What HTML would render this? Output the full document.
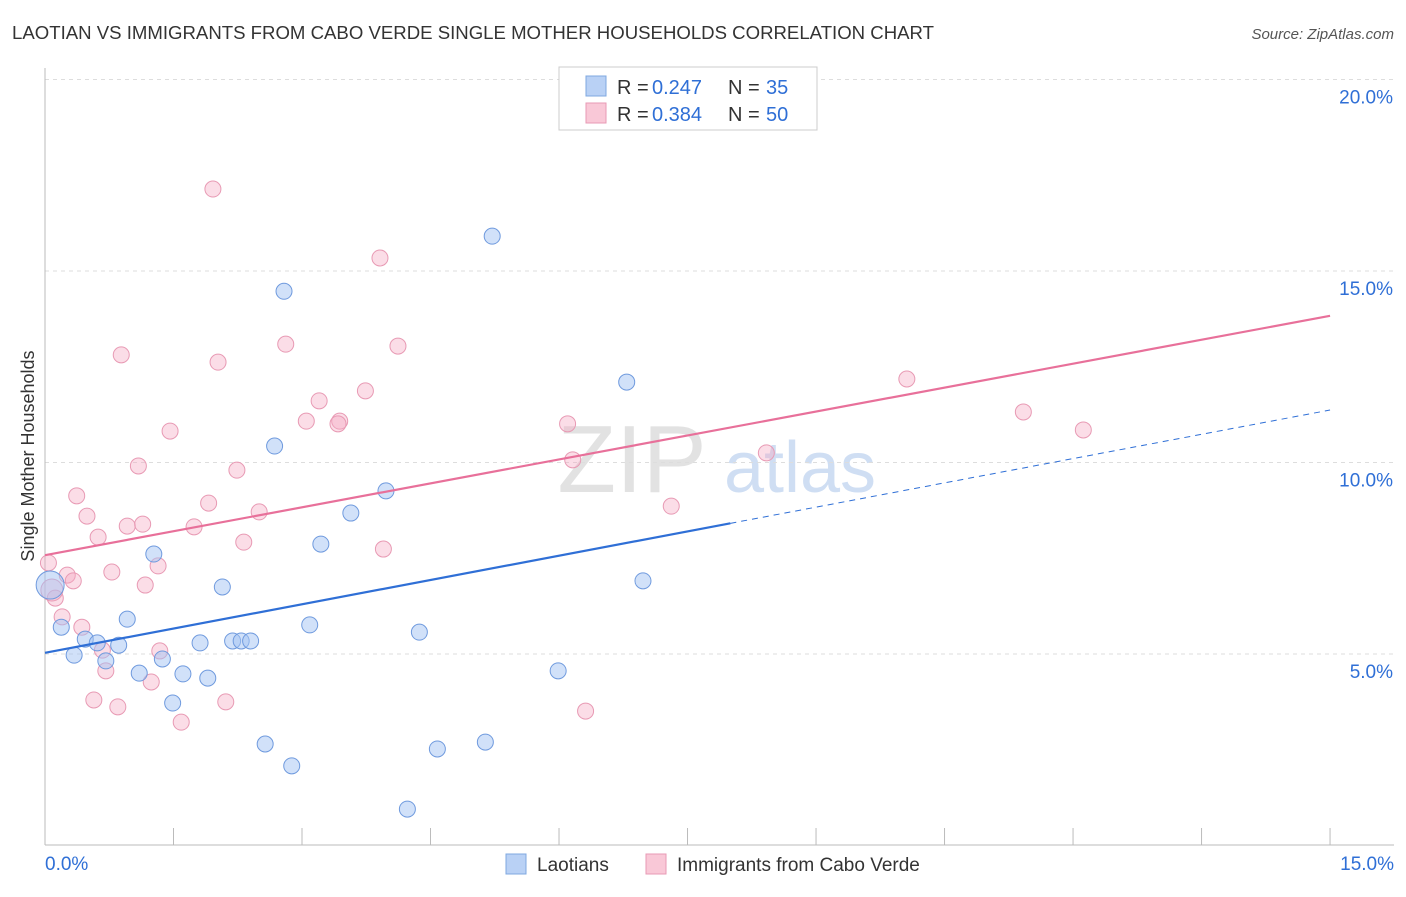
<!DOCTYPE html>
<html><head><meta charset="utf-8">
<style>
body{margin:0;background:#fff;font-family:"Liberation Sans",sans-serif;}
svg text{font-family:"Liberation Sans",sans-serif;}
</style></head>
<body>
<svg id="chart" width="1406" height="892">
<text x="12" y="39" font-size="18" fill="#333" textLength="922" lengthAdjust="spacingAndGlyphs">LAOTIAN VS IMMIGRANTS FROM CABO VERDE SINGLE MOTHER HOUSEHOLDS CORRELATION CHART</text>
<text x="1394" y="39" font-size="15" fill="#555" font-style="italic" text-anchor="end">Source: ZipAtlas.com</text>
<text x="632" y="492" font-size="96" fill="#ccc" opacity="0.55" text-anchor="middle" font-family="Liberation Serif">ZIP</text>
<text x="800" y="492" font-size="72" fill="#a9c4ea" opacity="0.55" text-anchor="middle">atlas</text>
<text transform="translate(34,456) rotate(-90)" font-size="18" fill="#333" text-anchor="middle">Single Mother Households</text>
<g id="grid"></g><g id="marks"></g>
<g>
<rect x="559" y="67" width="258" height="63" fill="#fff" stroke="#ccc"/>
<rect x="586" y="76" width="20" height="20" fill="#b9d1f5" stroke="#7fa8e0"/>
<rect x="586" y="103" width="20" height="20" fill="#f9c8d7" stroke="#e89ab4"/>
<g font-size="20">
<text x="617" y="94" fill="#333">R =</text><text x="652" y="94" fill="#2f6fd6">0.247</text>
<text x="728" y="94" fill="#333">N =</text><text x="766" y="94" fill="#2f6fd6">35</text>
</g>
<g font-size="20">
<text x="617" y="121" fill="#333">R =</text><text x="652" y="121" fill="#2f6fd6">0.384</text>
<text x="728" y="121" fill="#333">N =</text><text x="766" y="121" fill="#2f6fd6">50</text>
</g>
</g>
<g>
<rect x="506" y="854" width="20" height="20" fill="#b9d1f5" stroke="#7fa8e0"/>
<text x="537" y="871" font-size="19" fill="#333">Laotians</text>
<rect x="646" y="854" width="20" height="20" fill="#f9c8d7" stroke="#e89ab4"/>
<text x="677" y="871" font-size="19" fill="#333">Immigrants from Cabo Verde</text>
</g>
</svg>
<script>
const xTicks=[0,1.5,3,4.5,6,7.5,9,10.5,12,13.5,15];
const yTicks=[5,10,15,20];
const yTickLabels=["5.0%","10.0%","15.0%","20.0%"];
const blueX=[5.22,2.79,6.79,2.68,3.98,3.57,3.22,1.27,2.07,6.98,0.96,3.09,0.19,0.47,0.61,0.86,1.81,2.19,2.29,2.40,4.37,0.34,0.71,1.37,1.10,1.61,1.90,5.99,1.49,2.57,4.58,5.14,2.88,4.23,0.06];
const blueY=[15.91,14.47,12.10,10.43,9.26,8.68,7.87,7.61,6.75,6.91,5.91,5.76,5.70,5.39,5.29,5.23,5.29,5.34,5.34,5.34,5.57,4.97,4.82,4.87,4.50,4.48,4.37,4.56,3.72,2.65,2.52,2.70,2.08,0.95,6.80];
const pinkX=[1.96,3.91,0.89,2.02,2.81,4.12,3.74,3.20,3.05,3.44,3.42,1.46,6.10,1.09,6.16,2.24,10.06,11.42,12.12,8.42,0.37,1.91,0.49,2.50,0.96,1.14,1.74,0.62,2.32,3.95,7.31,0.04,0.26,0.33,0.78,1.17,1.32,0.12,0.20,0.43,0.67,1.34,0.71,1.24,0.57,0.85,2.11,1.59,6.31,0.08];
const pinkY=[17.14,15.34,12.81,12.62,13.09,13.04,11.87,11.61,11.08,11.08,11.01,10.82,11.01,9.91,10.07,9.80,12.18,11.32,10.85,10.25,9.13,8.94,8.60,8.71,8.34,8.39,8.32,8.05,7.92,7.74,8.86,7.38,7.06,6.91,7.14,6.80,7.30,6.46,5.97,5.70,5.10,5.08,4.56,4.27,3.80,3.62,3.75,3.22,3.51,6.67];
const blueTrend=[5.03,11.37]; // y at x=0 and x=15
const pinkTrend=[7.58,13.83];
const blueSolidEnd=8.0;

const NS="http://www.w3.org/2000/svg";
const X=v=>45+v*85.67;
const Y=v=>654-(v-5)*38.3;
function mk(tag,attrs,parent){const e=document.createElementNS(NS,tag);for(const k in attrs)e.setAttribute(k,attrs[k]);parent.appendChild(e);return e;}
const grid=document.getElementById('grid'),marks=document.getElementById('marks');
yTicks.forEach((t,i)=>{
  const l=mk('line',{x1:45,x2:1394,y1:Y(t),y2:Y(t),stroke:'#ddd','stroke-dasharray':'4,4'},grid);
  
  
  const tx=mk('text',{x:1393,y:Y(t)+24,'font-size':19,fill:'#2f6fd6','text-anchor':'end'},grid);
  tx.textContent=yTickLabels[i];
  
  
});
const ax=mk('line',{x1:45,x2:1394,y1:845,y2:845,stroke:'#bbb'},grid);


const ay=mk('line',{x1:45,x2:45,y1:68,y2:845,stroke:'#bbb'},grid);


xTicks.forEach(t=>{
  const l=mk('line',{x1:X(t),x2:X(t),y1:828,y2:845,stroke:'#bbb'},grid);
  
  
});
const xl0=mk('text',{x:45,y:870,'font-size':19,fill:'#2f6fd6'},grid);xl0.textContent='0.0%';


const xl1=mk('text',{x:1394,y:870,'font-size':19,fill:'#2f6fd6','text-anchor':'end'},grid);xl1.textContent='15.0%';



pinkX.forEach((x,i)=>{
  const c=mk('circle',{cx:X(x),cy:Y(pinkY[i]),r:i===pinkX.length-1?11:8,fill:'rgba(246,170,196,0.4)',stroke:'#e89ab4','stroke-width':1},marks);
  
  
});
blueX.forEach((x,i)=>{
  const c=mk('circle',{cx:X(x),cy:Y(blueY[i]),r:i===blueX.length-1?14:8,fill:'rgba(164,196,244,0.5)',stroke:'#6f9ade','stroke-width':1},marks);
  
  
});
const by=x=>blueTrend[0]+(blueTrend[1]-blueTrend[0])*x/15;
const py=x=>pinkTrend[0]+(pinkTrend[1]-pinkTrend[0])*x/15;
const pl=mk('line',{x1:X(0),y1:Y(py(0)),x2:X(15),y2:Y(py(15)),stroke:'#e8709a','stroke-width':2.2},marks);


const bl=mk('line',{x1:X(0),y1:Y(by(0)),x2:X(blueSolidEnd),y2:Y(by(blueSolidEnd)),stroke:'#2f6fd6','stroke-width':2.2},marks);


const bd=mk('line',{x1:X(blueSolidEnd),y1:Y(by(blueSolidEnd)),x2:X(15),y2:Y(by(15)),stroke:'#2f6fd6','stroke-width':1,'stroke-dasharray':'6,5'},marks);


</script>
</body></html>
